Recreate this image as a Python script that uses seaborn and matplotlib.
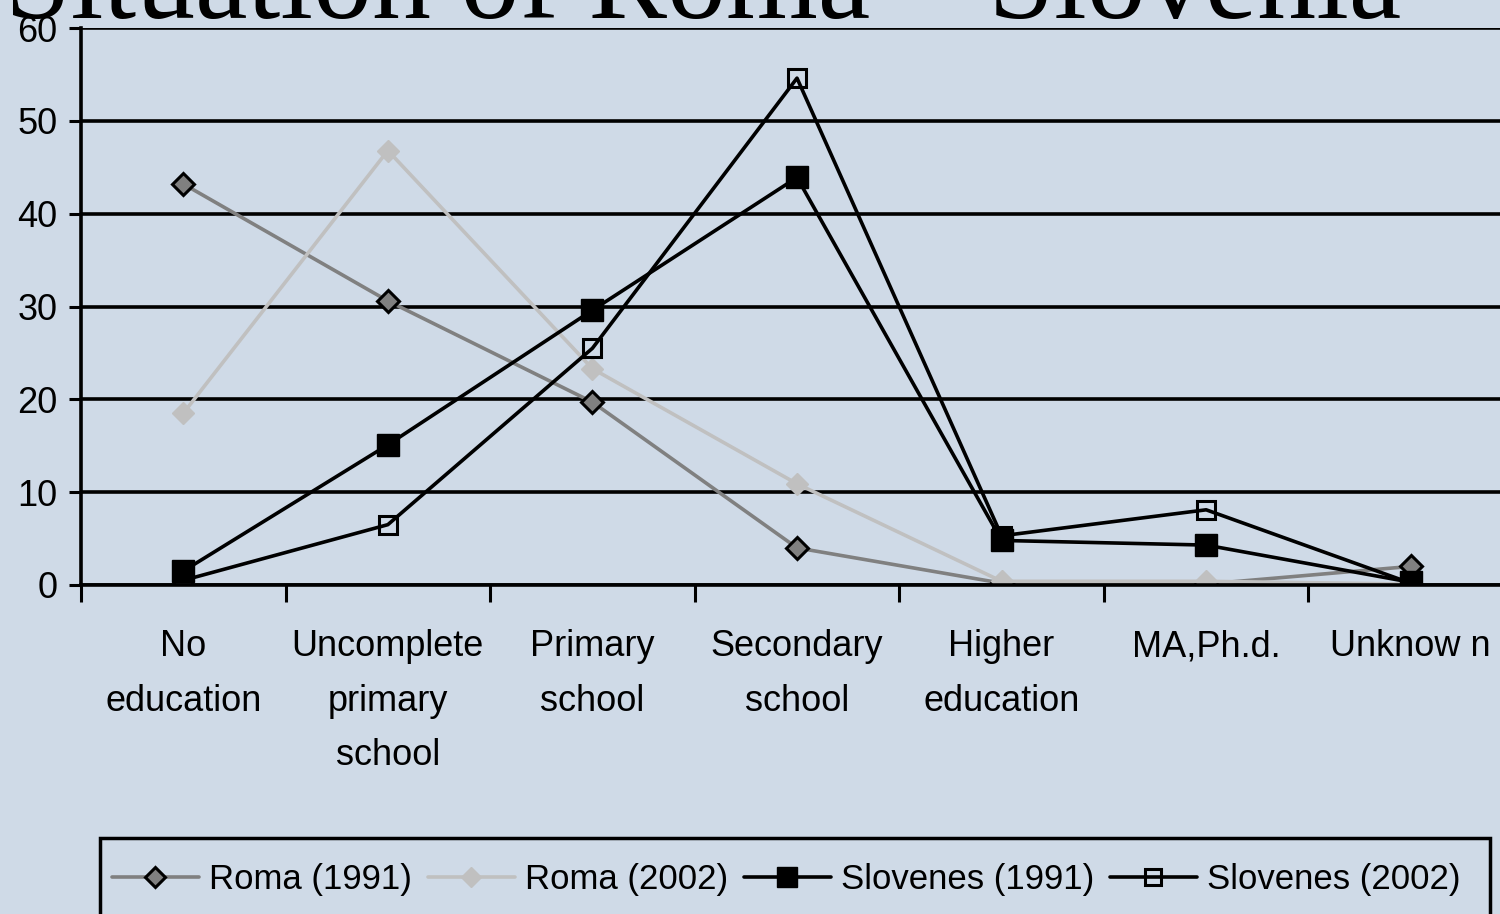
import numpy as np
import pandas as pd
import matplotlib
matplotlib.use("Agg")
import matplotlib.pyplot as plt
import seaborn as sns
from matplotlib import font_manager
from matplotlib.patches import Rectangle

# data (percent of population by education level)
categories = ["No\neducation", "Uncomplete\nprimary\nschool", "Primary\nschool",
              "Secondary\nschool", "Higher\neducation", "MA,Ph.d.", "Unknow n"]
roma_1991 = [43.2, 30.6, 19.7, 4.0, 0.2, 0.1, 2.0]
roma_2002 = [18.5, 46.8, 23.3, 10.9, 0.4, 0.4, 0.1]
slovenes_1991 = [1.5, 15.1, 29.6, 43.9, 4.8, 4.3, 0.3]
slovenes_2002 = [0.5, 6.5, 25.5, 54.6, 5.3, 8.1, 0.2]
series_names = ["Roma (1991)", "Roma (2002)", "Slovenes (1991)", "Slovenes (2002)"]
y_ticks = [0, 10, 20, 30, 40, 50, 60]
title = "Situation of Roma \u2013 Slovenia"

bg = "#CFDAE7"
sns.set_style("ticks")
names = {f.name for f in font_manager.fontManager.ttflist}
sans = "Liberation Sans Narrow" if "Liberation Sans Narrow" in names else "Liberation Sans"
plt.rcParams["font.family"] = [sans, "DejaVu Sans"]
plt.rcParams["text.color"] = "black"
plt.rcParams["xtick.color"] = "black"
plt.rcParams["ytick.color"] = "black"
plt.rcParams["xtick.labelcolor"] = "black"
plt.rcParams["ytick.labelcolor"] = "black"
fs = 26

wide = pd.DataFrame({
    "pos": np.arange(len(categories)),
    series_names[0]: roma_1991,
    series_names[1]: roma_2002,
    series_names[2]: slovenes_1991,
    series_names[3]: slovenes_2002,
})
long_df = wide.melt(id_vars="pos", var_name="series", value_name="value")

fig = plt.figure(figsize=(15, 9.14), dpi=100, facecolor=bg)
ax = fig.add_axes([81 / 1500, (914 - 585) / 914, (1513 - 81) / 1500, (585 - 28) / 914])
ax.set_facecolor(bg)

styles = {
    "Roma (1991)": dict(color="#808080", marker="D", markersize=11,
                        markerfacecolor="#808080", markeredgecolor="black", markeredgewidth=2.2),
    "Roma (2002)": dict(color="#C0C0C0", marker="D", markersize=11,
                        markerfacecolor="#C0C0C0", markeredgecolor="#C0C0C0", markeredgewidth=1),
    "Slovenes (1991)": dict(color="black", marker="s", markersize=16,
                            markerfacecolor="black", markeredgecolor="black", markeredgewidth=1),
    "Slovenes (2002)": dict(color="black", marker="s", markersize=12.5,
                            markerfacecolor="none", markeredgecolor="black", markeredgewidth=2.2),
}

for name in series_names:
    sub = long_df[long_df["series"] == name]
    sns.lineplot(data=sub, x="pos", y="value", ax=ax, linewidth=2.6,
                 label=name, sort=False, **styles[name])

handles, labels = ax.get_legend_handles_labels()
ax.get_legend().remove()

# axes styling
ax.set_xlim(-0.5, 6.5)
ax.set_ylim(0, 60)
ax.set_yticks(y_ticks)
ax.yaxis.grid(True, color="black", linewidth=2.6)
ax.set_axisbelow(True)
ax.tick_params(axis="y", labelsize=fs, length=9, width=2.2, pad=8)

ax.set_xticks(np.arange(-0.5, 7, 1))
ax.set_xticklabels([])
ax.tick_params(axis="x", which="major", length=12, width=2.2, direction="out")
ax.set_xticks(np.arange(len(categories)), minor=True)
ax.set_xticklabels(categories, minor=True, fontsize=fs, linespacing=1.72)
ax.tick_params(axis="x", which="minor", length=0, pad=32)
ax.set_xlabel("")
ax.set_ylabel("")

for side in ["top", "right"]:
    ax.spines[side].set_visible(False)
for side in ["left", "bottom"]:
    ax.spines[side].set_color("black")
    ax.spines[side].set_linewidth(2.6)

# title cut off at the top, like the slide it came from
fig.text(5 / 1500, 1 - 18 / 914, title, fontsize=85, family="Liberation Serif",
         va="baseline", ha="left")

# legend box runs off the bottom edge
fig.patches.append(Rectangle((100 / 1500, -0.05), 1390 / 1500, 0.05 + 76 / 914,
                             transform=fig.transFigure, facecolor="none",
                             edgecolor="black", linewidth=2.5))
leg = fig.legend(handles, labels, loc="center left", bbox_to_anchor=(112 / 1500, 1 - 880 / 914),
                 ncol=4, fontsize=25, frameon=False, borderpad=0, borderaxespad=0,
                 handlelength=2.5, handletextpad=0.3, columnspacing=0.45, markerscale=0.9)

fig.savefig("out.png", dpi=100, facecolor=bg)
